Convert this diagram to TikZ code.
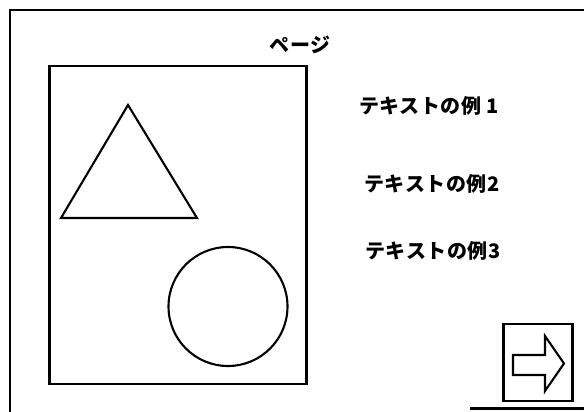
\documentclass[tikz,border=0pt]{standalone}
\usepackage{fontspec}
\newfontfamily\jp[LetterSpace=3]{Noto Sans CJK JP}
\tikzset{
  frame/.style={draw=black, line width=2.8pt},
  shapeline/.style={draw=black, line width=2.1pt},
  label/.style={font=\jp\bfseries\fontsize{20}{24}\selectfont, inner sep=0pt, anchor=center}
}
\begin{document}
\begin{tikzpicture}[x=1pt,y=-1pt]
\useasboundingbox (0,0) rectangle (584,412);
\clip (0,0) rectangle (584,412);
% outer page frame
\draw[frame] (10,412) -- (10,10) -- (590,10);
\draw[frame] (470,408.5) -- (590,408.5);
% inner frame
\node[frame, minimum width=257.5pt, minimum height=318pt, inner sep=0pt] (panel) at (178,225) {};
% triangle
\coordinate (tA) at (128,105);
\coordinate (tB) at (61,218);
\coordinate (tC) at (197,218);
\draw[shapeline, line join=miter] (tA) -- (tB) -- (tC) -- cycle;
% circle
\node[shapeline, circle, minimum size=119pt, inner sep=0pt] (circ) at (228,306.5) {};
% texts
\node[label] (title) at (300,45) {ページ};
\node[label] (t1) at (429,106) {テキストの例 1};
\node[label] (t2) at (432,184) {テキストの例2};
\node[label] (t3) at (433,251) {テキストの例3};
% arrow button
\node[shapeline, minimum width=69pt, minimum height=77pt, inner sep=0pt] (btn) at (538,362.5) {};
\draw[shapeline, line join=miter] (513,355) -- (545,355) -- (545,336) -- (564,363.5) -- (545,391) -- (545,375) -- (513,375) -- cycle;
\end{tikzpicture}
\end{document}
